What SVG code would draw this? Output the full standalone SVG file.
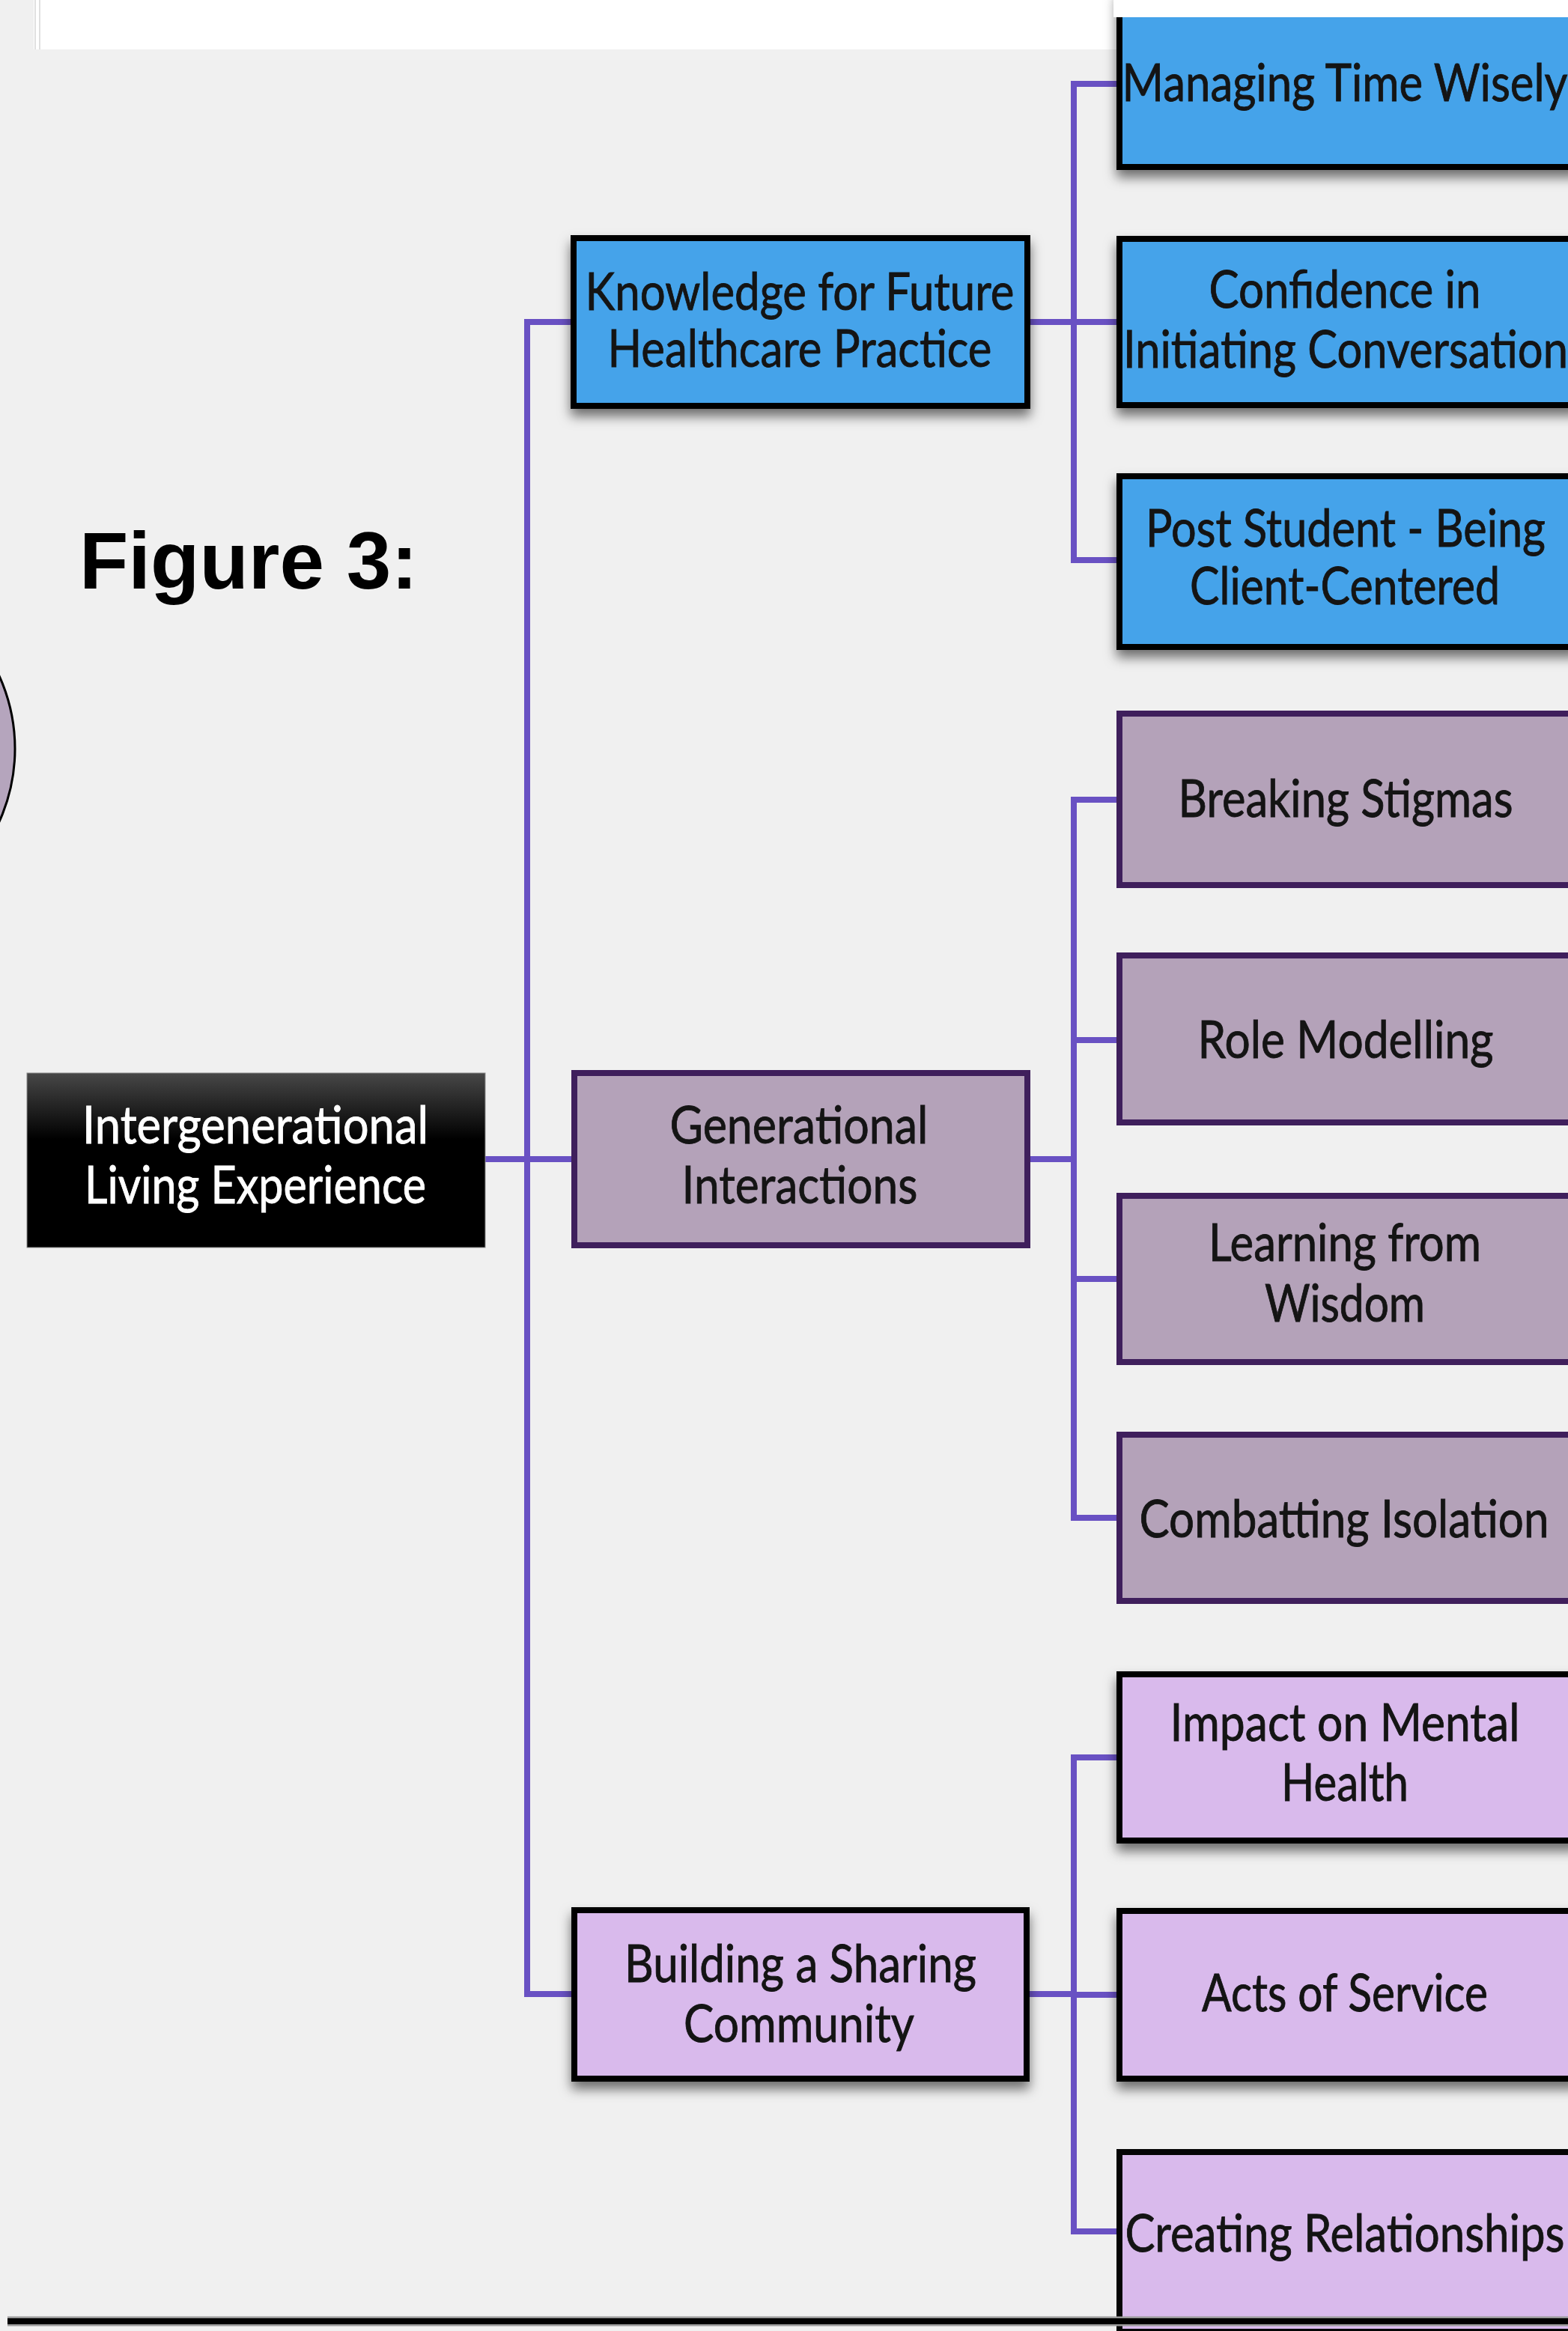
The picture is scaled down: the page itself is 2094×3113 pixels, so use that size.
<svg xmlns="http://www.w3.org/2000/svg" width="2094" height="3113" viewBox="0 0 2094 3113">
  <defs>
    <style>
      .lbl { font-family: Lato, "Open Sans", "Liberation Sans", sans-serif; font-size: 70px; fill: #141414; stroke: #141414; stroke-width: 0.9; text-anchor: middle; }
      .root-lbl { fill: #ffffff; stroke: #ffffff; }
      .fig { font-family: "Liberation Sans", Arial, sans-serif; font-weight: bold; font-size: 107px; fill: #000000; }
      .blue { fill: #45a3ea; stroke: #050505; stroke-width: 8; }
      .mauve { fill: #b4a2b9; stroke: #3f1f5c; stroke-width: 8; }
      .lilac { fill: #d9baec; stroke: #050505; stroke-width: 8; }
      .conn { fill: none; stroke: #6951c3; stroke-width: 8; stroke-linejoin: miter; stroke-linecap: square; }
    </style>
    <linearGradient id="rootFill" x1="0" y1="0" x2="0" y2="1">
      <stop offset="0" stop-color="#474747"/>
      <stop offset="0.38" stop-color="#000000"/>
      <stop offset="1" stop-color="#000000"/>
    </linearGradient>
    <filter id="shadow" x="-10%" y="-10%" width="120%" height="135%">
      <feDropShadow dx="0" dy="10" stdDeviation="8" flood-color="#000000" flood-opacity="0.55"/>
    </filter>
  </defs>

  <!-- page background -->
  <rect x="0" y="0" width="2094" height="3113" fill="#f0f0f0"/>
  <!-- white strip along the top edge -->
  <rect x="45" y="0" width="2049" height="66" fill="#ffffff"/>
  <line x1="47" y1="0" x2="47" y2="66" stroke="#d6d6d6" stroke-width="1.5"/>
  <line x1="53" y1="0" x2="53" y2="66" stroke="#d6d6d6" stroke-width="1.5"/>

  <!-- partial circle at the left margin -->
  <circle cx="-216" cy="1000" r="236" fill="#b5a5bd" stroke="#000000" stroke-width="3"/>

  <!-- caption -->
  <text class="fig" x="106" y="786">Figure 3:</text>

  <!-- connectors -->
  <g id="connectors">
    <!-- root to level 1 -->
    <path class="conn" d="M648 1548 H763"/>
    <path class="conn" d="M762 430 H704 V2663 H763"/>
    <!-- knowledge branch -->
    <path class="conn" d="M1376 430 H1434"/>
    <path class="conn" d="M1491 112 H1434 V748 H1491"/>
    <path class="conn" d="M1434 430 H1491"/>
    <!-- generational branch -->
    <path class="conn" d="M1376 1548 H1434"/>
    <path class="conn" d="M1491 1068 H1434 V2027 H1491"/>
    <path class="conn" d="M1434 1389 H1491"/>
    <path class="conn" d="M1434 1708 H1491"/>
    <!-- community branch -->
    <path class="conn" d="M1375 2663 H1434"/>
    <path class="conn" d="M1491 2347 H1434 V2980 H1491"/>
    <path class="conn" d="M1434 2664 H1491"/>
  </g>

  <!-- root -->
  <g id="node-root">
    <rect x="36" y="1433" width="612" height="233" fill="url(#rootFill)" stroke="#8a8a8a" stroke-width="1"/>
    <text class="lbl root-lbl" x="341" y="1527" textLength="462" lengthAdjust="spacingAndGlyphs">Intergenerational</text>
    <text class="lbl root-lbl" x="341" y="1607" textLength="456" lengthAdjust="spacingAndGlyphs">Living Experience</text>
  </g>

  <!-- level 1 -->
  <g id="node-knowledge">
    <rect class="blue" x="766" y="318" width="606" height="224" filter="url(#shadow)"/>
    <text class="lbl" x="1068" y="414" textLength="573" lengthAdjust="spacingAndGlyphs">Knowledge for Future</text>
    <text class="lbl" x="1068" y="490" textLength="513" lengthAdjust="spacingAndGlyphs">Healthcare Practice</text>
  </g>
  <g id="node-generational">
    <rect class="mauve" x="767" y="1433" width="605" height="230"/>
    <text class="lbl" x="1067" y="1527" textLength="345" lengthAdjust="spacingAndGlyphs">Generational</text>
    <text class="lbl" x="1068" y="1607" textLength="315" lengthAdjust="spacingAndGlyphs">Interactions</text>
  </g>
  <g id="node-community">
    <rect class="lilac" x="767" y="2551" width="604" height="225" filter="url(#shadow)"/>
    <text class="lbl" x="1069" y="2647" textLength="470" lengthAdjust="spacingAndGlyphs">Building a Sharing</text>
    <text class="lbl" x="1067" y="2727" textLength="308" lengthAdjust="spacingAndGlyphs">Community</text>
  </g>

  <!-- level 2: knowledge -->
  <g id="node-time">
    <rect class="blue" x="1495" y="-10" width="610" height="233" filter="url(#shadow)"/>
    <rect x="1487" y="0" width="607" height="23" fill="#ffffff"/>
    <text class="lbl" x="1796" y="135" textLength="595" lengthAdjust="spacingAndGlyphs">Managing Time Wisely</text>
  </g>
  <g id="node-confidence">
    <rect class="blue" x="1495" y="319" width="610" height="222" filter="url(#shadow)"/>
    <text class="lbl" x="1796" y="411" textLength="363" lengthAdjust="spacingAndGlyphs">Confidence in</text>
    <text class="lbl" x="1797" y="491" textLength="594" lengthAdjust="spacingAndGlyphs">Initiating Conversation</text>
  </g>
  <g id="node-post-student">
    <rect class="blue" x="1495" y="636" width="610" height="228" filter="url(#shadow)"/>
    <text class="lbl" x="1797" y="730" textLength="534" lengthAdjust="spacingAndGlyphs">Post Student - Being</text>
    <text class="lbl" x="1796" y="807" textLength="414" lengthAdjust="spacingAndGlyphs">Client-Centered</text>
  </g>

  <!-- level 2: generational -->
  <g id="node-stigmas">
    <rect class="mauve" x="1495" y="953" width="610" height="229"/>
    <text class="lbl" x="1797" y="1091" textLength="447" lengthAdjust="spacingAndGlyphs">Breaking Stigmas</text>
  </g>
  <g id="node-role">
    <rect class="mauve" x="1495" y="1276" width="610" height="223"/>
    <text class="lbl" x="1797" y="1413" textLength="395" lengthAdjust="spacingAndGlyphs">Role Modelling</text>
  </g>
  <g id="node-wisdom">
    <rect class="mauve" x="1495" y="1597" width="610" height="222"/>
    <text class="lbl" x="1796" y="1684" textLength="364" lengthAdjust="spacingAndGlyphs">Learning from</text>
    <text class="lbl" x="1796" y="1765" textLength="214" lengthAdjust="spacingAndGlyphs">Wisdom</text>
  </g>
  <g id="node-isolation">
    <rect class="mauve" x="1495" y="1916" width="610" height="222"/>
    <text class="lbl" x="1795" y="2053" textLength="547" lengthAdjust="spacingAndGlyphs">Combatting Isolation</text>
  </g>

  <!-- level 2: community -->
  <g id="node-mental">
    <rect class="lilac" x="1495" y="2236" width="610" height="222" filter="url(#shadow)"/>
    <text class="lbl" x="1796" y="2325" textLength="467" lengthAdjust="spacingAndGlyphs">Impact on Mental</text>
    <text class="lbl" x="1796" y="2405" textLength="170" lengthAdjust="spacingAndGlyphs">Health</text>
  </g>
  <g id="node-service">
    <rect class="lilac" x="1495" y="2552" width="610" height="224" filter="url(#shadow)"/>
    <text class="lbl" x="1796" y="2686" textLength="382" lengthAdjust="spacingAndGlyphs">Acts of Service</text>
  </g>
  <g id="node-relationships">
    <rect class="lilac" x="1495" y="2874" width="610" height="240"/>
    <text class="lbl" x="1796" y="3007" textLength="587" lengthAdjust="spacingAndGlyphs">Creating Relationships</text>
  </g>

  <!-- rule along the bottom edge -->
  <line x1="10" y1="3100" x2="2094" y2="3100" stroke="#9a9a9a" stroke-width="13"/>
  <line x1="10" y1="3100" x2="2094" y2="3100" stroke="#000000" stroke-width="8"/>
</svg>
